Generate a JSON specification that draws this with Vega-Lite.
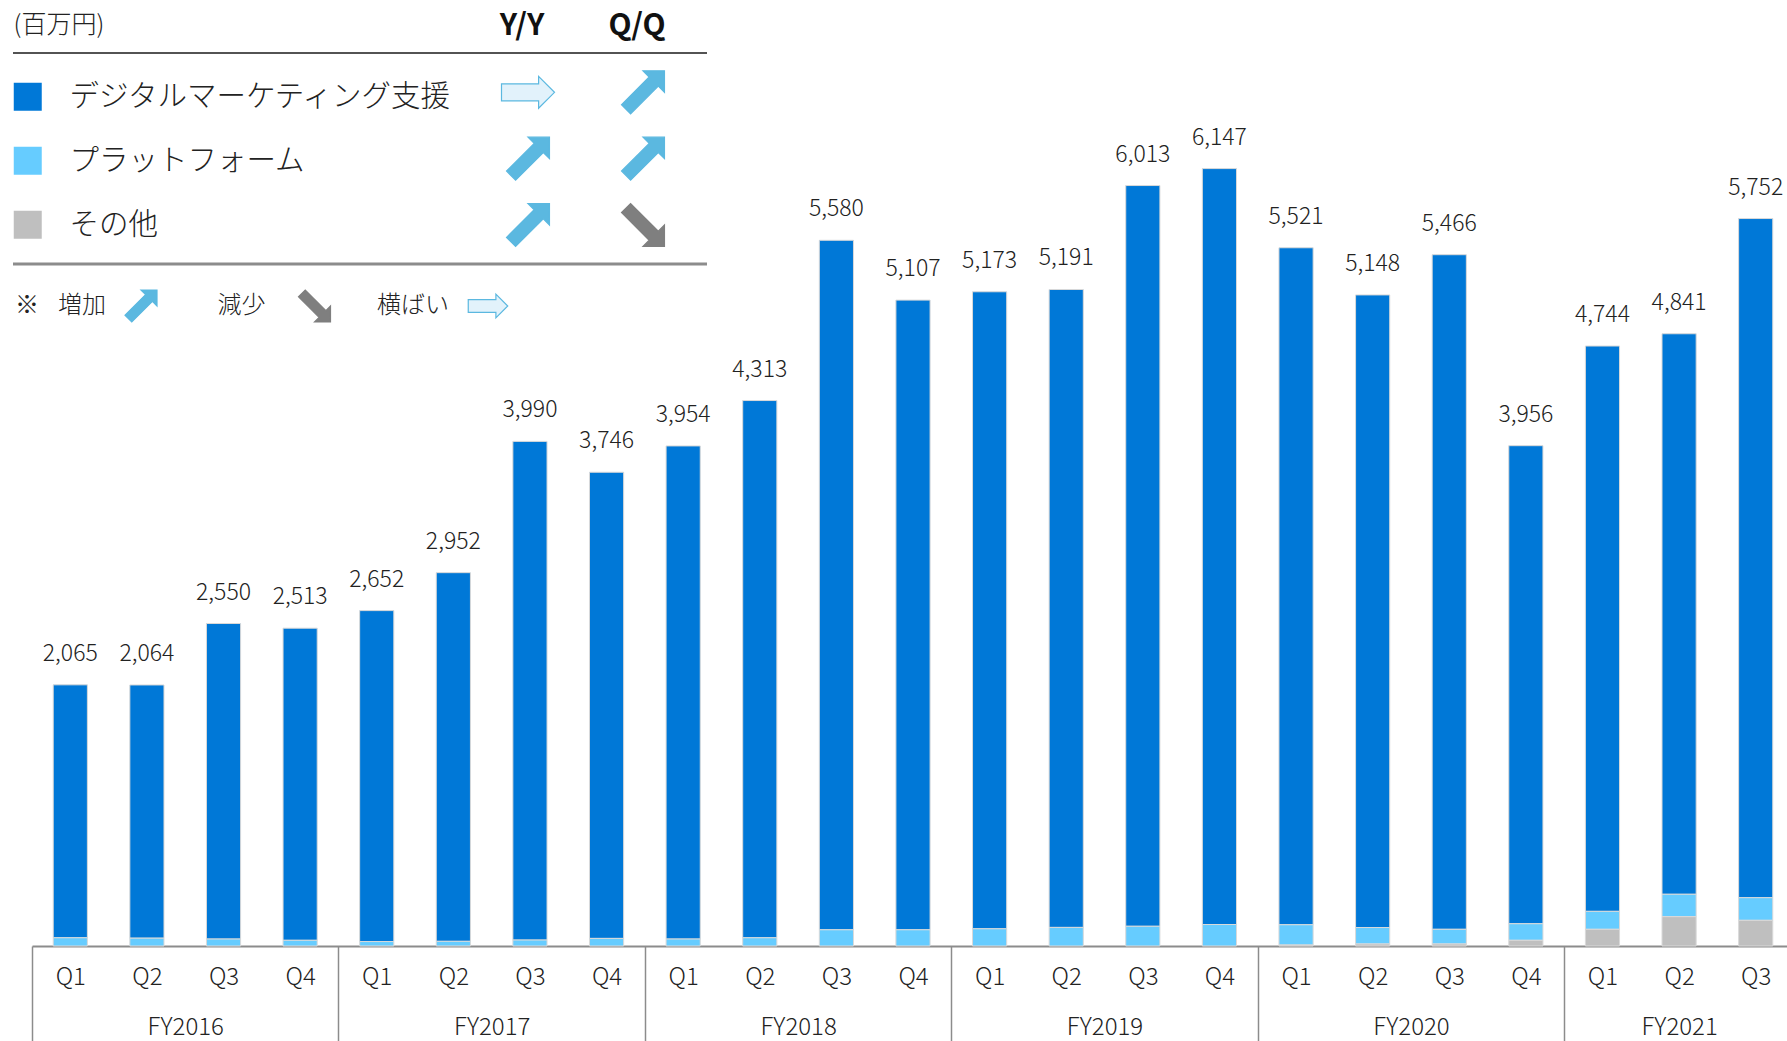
{
  "$schema": "https://vega.github.io/schema/vega-lite/v6.json",
  "width": 1755,
  "height": 946,
  "autosize": {"type": "none"},
  "padding": {"left": 32, "top": 0, "right": 0, "bottom": 95},
  "background": "white",
  "config": {"view": {"stroke": null}, "font": "Noto Sans CJK JP", "axis": {"grid": false}},
  "datasets": {
    "seriesOrder": [
      {"series": "その他", "stackOrder": 1},
      {"series": "プラットフォーム", "stackOrder": 2},
      {"series": "デジタルマーケティング支援", "stackOrder": 3}
    ],
    "segments": [
      {"q": "FY2016 Q1", "series": "デジタルマーケティング支援", "value": 2000}, {"q": "FY2016 Q1", "series": "プラットフォーム", "value": 65},
      {"q": "FY2016 Q2", "series": "デジタルマーケティング支援", "value": 2002}, {"q": "FY2016 Q2", "series": "プラットフォーム", "value": 62},
      {"q": "FY2016 Q3", "series": "デジタルマーケティング支援", "value": 2495}, {"q": "FY2016 Q3", "series": "プラットフォーム", "value": 55},
      {"q": "FY2016 Q4", "series": "デジタルマーケティング支援", "value": 2468}, {"q": "FY2016 Q4", "series": "プラットフォーム", "value": 45},
      {"q": "FY2017 Q1", "series": "デジタルマーケティング支援", "value": 2617}, {"q": "FY2017 Q1", "series": "プラットフォーム", "value": 35},
      {"q": "FY2017 Q2", "series": "デジタルマーケティング支援", "value": 2915}, {"q": "FY2017 Q2", "series": "プラットフォーム", "value": 37},
      {"q": "FY2017 Q3", "series": "デジタルマーケティング支援", "value": 3943}, {"q": "FY2017 Q3", "series": "プラットフォーム", "value": 47},
      {"q": "FY2017 Q4", "series": "デジタルマーケティング支援", "value": 3686}, {"q": "FY2017 Q4", "series": "プラットフォーム", "value": 60},
      {"q": "FY2018 Q1", "series": "デジタルマーケティング支援", "value": 3899}, {"q": "FY2018 Q1", "series": "プラットフォーム", "value": 55},
      {"q": "FY2018 Q2", "series": "デジタルマーケティング支援", "value": 4248}, {"q": "FY2018 Q2", "series": "プラットフォーム", "value": 65},
      {"q": "FY2018 Q3", "series": "デジタルマーケティング支援", "value": 5452}, {"q": "FY2018 Q3", "series": "プラットフォーム", "value": 128},
      {"q": "FY2018 Q4", "series": "デジタルマーケティング支援", "value": 4979}, {"q": "FY2018 Q4", "series": "プラットフォーム", "value": 128},
      {"q": "FY2019 Q1", "series": "デジタルマーケティング支援", "value": 5037}, {"q": "FY2019 Q1", "series": "プラットフォーム", "value": 136},
      {"q": "FY2019 Q2", "series": "デジタルマーケティング支援", "value": 5044}, {"q": "FY2019 Q2", "series": "プラットフォーム", "value": 147},
      {"q": "FY2019 Q3", "series": "デジタルマーケティング支援", "value": 5857}, {"q": "FY2019 Q3", "series": "プラットフォーム", "value": 156},
      {"q": "FY2019 Q4", "series": "デジタルマーケティング支援", "value": 5977}, {"q": "FY2019 Q4", "series": "プラットフォーム", "value": 170},
      {"q": "FY2020 Q1", "series": "デジタルマーケティング支援", "value": 5353}, {"q": "FY2020 Q1", "series": "プラットフォーム", "value": 160}, {"q": "FY2020 Q1", "series": "その他", "value": 8},
      {"q": "FY2020 Q2", "series": "デジタルマーケティング支援", "value": 5002}, {"q": "FY2020 Q2", "series": "プラットフォーム", "value": 130}, {"q": "FY2020 Q2", "series": "その他", "value": 16},
      {"q": "FY2020 Q3", "series": "デジタルマーケティング支援", "value": 5334}, {"q": "FY2020 Q3", "series": "プラットフォーム", "value": 116}, {"q": "FY2020 Q3", "series": "その他", "value": 16},
      {"q": "FY2020 Q4", "series": "デジタルマーケティング支援", "value": 3780}, {"q": "FY2020 Q4", "series": "プラットフォーム", "value": 131}, {"q": "FY2020 Q4", "series": "その他", "value": 45},
      {"q": "FY2021 Q1", "series": "デジタルマーケティング支援", "value": 4470}, {"q": "FY2021 Q1", "series": "プラットフォーム", "value": 142}, {"q": "FY2021 Q1", "series": "その他", "value": 132},
      {"q": "FY2021 Q2", "series": "デジタルマーケティング支援", "value": 4432}, {"q": "FY2021 Q2", "series": "プラットフォーム", "value": 177}, {"q": "FY2021 Q2", "series": "その他", "value": 232},
      {"q": "FY2021 Q3", "series": "デジタルマーケティング支援", "value": 5370}, {"q": "FY2021 Q3", "series": "プラットフォーム", "value": 179}, {"q": "FY2021 Q3", "series": "その他", "value": 203}
    ],
    "totals": [
      {"q": "FY2016 Q1", "total": 2065}, {"q": "FY2016 Q2", "total": 2064}, {"q": "FY2016 Q3", "total": 2550}, {"q": "FY2016 Q4", "total": 2513},
      {"q": "FY2017 Q1", "total": 2652}, {"q": "FY2017 Q2", "total": 2952}, {"q": "FY2017 Q3", "total": 3990}, {"q": "FY2017 Q4", "total": 3746},
      {"q": "FY2018 Q1", "total": 3954}, {"q": "FY2018 Q2", "total": 4313}, {"q": "FY2018 Q3", "total": 5580}, {"q": "FY2018 Q4", "total": 5107},
      {"q": "FY2019 Q1", "total": 5173}, {"q": "FY2019 Q2", "total": 5191}, {"q": "FY2019 Q3", "total": 6013}, {"q": "FY2019 Q4", "total": 6147},
      {"q": "FY2020 Q1", "total": 5521}, {"q": "FY2020 Q2", "total": 5148}, {"q": "FY2020 Q3", "total": 5466}, {"q": "FY2020 Q4", "total": 3956},
      {"q": "FY2021 Q1", "total": 4744}, {"q": "FY2021 Q2", "total": 4841}, {"q": "FY2021 Q3", "total": 5752}
    ]
  },
  "layer": [
    {
      "data": {"name": "segments"},
      "transform": [
        {"lookup": "series", "from": {"data": {"name": "seriesOrder"}, "key": "series", "fields": ["stackOrder"]}}
      ],
      "mark": {"type": "bar", "stroke": "#D9D9D9", "strokeWidth": 1},
      "encoding": {
        "x": {
          "field": "q", "type": "nominal", "sort": null,
          "scale": {"domain": ["FY2016 Q1","FY2016 Q2","FY2016 Q3","FY2016 Q4","FY2017 Q1","FY2017 Q2","FY2017 Q3","FY2017 Q4","FY2018 Q1","FY2018 Q2","FY2018 Q3","FY2018 Q4","FY2019 Q1","FY2019 Q2","FY2019 Q3","FY2019 Q4","FY2020 Q1","FY2020 Q2","FY2020 Q3","FY2020 Q4","FY2021 Q1","FY2021 Q2","FY2021 Q3"], "range": [0, 1762], "paddingInner": 0.554, "paddingOuter": 0.277},
          "axis": {
            "orient": "bottom", "title": null, "grid": false,
            "domain": true, "domainColor": "#8c8c8c", "domainWidth": 2,
            "ticks": true, "tickSize": 95, "tickWidth": 1.5, "tickOffset": -38.3,
            "tickColor": {"condition": {"test": "indexof(datum.value,'Q1')>=0", "value": "#8c8c8c"}, "value": "rgba(0,0,0,0)"},
            "labelExpr": "split(datum.value,' ')[1]", "labelOffset": 38.3, "labelPadding": -64,
            "labelBaseline": "middle", "labelAngle": 0, "labelFontSize": 24, "labelColor": "#222",
            "labelFont": "Noto Sans CJK JP", "labelFontWeight": 300, "labelOverlap": false, "labelBound": false
          }
        },
        "y": {
          "field": "value", "type": "quantitative", "stack": "zero",
          "scale": {"domain": [0, 7480], "nice": false},
          "axis": {"title": "(百万円)", "domain": false, "ticks": false, "labels": false, "grid": false,
                   "titleAngle": 0, "titleAlign": "left", "titleBaseline": "middle", "titleX": -19, "titleY": 24,
                   "titleFontSize": 25, "titleFontWeight": 300, "titleColor": "#222", "titleFont": "Noto Sans CJK JP"}
        },
        "order": {"field": "stackOrder", "type": "quantitative", "sort": "ascending"},
        "color": {
          "field": "series", "type": "nominal",
          "scale": {"domain": ["デジタルマーケティング支援", "プラットフォーム", "その他"], "range": ["#0078D7", "#66CCFF", "#BFBFBF"]},
          "legend": {"orient": "none", "legendX": -19, "legendY": 82, "title": null, "direction": "vertical",
                     "symbolType": "square", "symbolSize": 784, "symbolStrokeWidth": 0, "symbolOpacity": 1,
                     "labelFontSize": 29.5, "labelOffset": 27, "rowPadding": 33, "labelLimit": 700,
                     "labelColor": "#222", "labelFont": "Noto Sans CJK JP", "labelFontWeight": 300}
        }
      }
    },
    {
      "data": {"name": "totals"},
      "mark": {"type": "text", "baseline": "alphabetic", "dy": -24, "fontSize": 23, "fontWeight": 300, "color": "#222"},
      "encoding": {
        "x": {
          "field": "q", "type": "nominal", "sort": null,
          "scale": {"domain": ["FY2016 Q1","FY2016 Q2","FY2016 Q3","FY2016 Q4","FY2017 Q1","FY2017 Q2","FY2017 Q3","FY2017 Q4","FY2018 Q1","FY2018 Q2","FY2018 Q3","FY2018 Q4","FY2019 Q1","FY2019 Q2","FY2019 Q3","FY2019 Q4","FY2020 Q1","FY2020 Q2","FY2020 Q3","FY2020 Q4","FY2021 Q1","FY2021 Q2","FY2021 Q3"], "range": [0, 1762], "paddingInner": 0.554, "paddingOuter": 0.277},
          "axis": {
            "orient": "bottom", "title": null, "grid": false, "domain": false, "ticks": false,
            "labelExpr": "(indexof(datum.value,'Q3')>=0 && indexof(datum.value,'2021')<0) || datum.value=='FY2021 Q2' ? split(datum.value,' ')[0] : ''",
            "labelOffset": {"condition": {"test": "datum.value=='FY2021 Q2'", "value": 0}, "value": -38.3},
            "labelPadding": 81, "labelBaseline": "middle", "labelAngle": 0, "labelFontSize": 24, "labelColor": "#222",
            "labelFont": "Noto Sans CJK JP", "labelFontWeight": 300, "labelOverlap": false, "labelBound": false
          }
        },
        "y": {"field": "total", "type": "quantitative", "scale": {"domain": [0, 7480], "nice": false}, "axis": null},
        "text": {"field": "total", "type": "quantitative", "format": ","}
      }
    },
    {
      "layer": [
        {
          "data": {"values": [{"col": "Y/Y"}, {"col": "Q/Q"}]},
          "mark": {"type": "text", "fontSize": 30, "fontWeight": "bold", "color": "#111", "dx": -6},
          "encoding": {
            "x": {"field": "col", "type": "nominal", "scale": {"type": "point", "domain": ["Y/Y", "Q/Q"], "range": [496, 611], "padding": 0}, "axis": null},
            "y": {"datum": "header", "type": "nominal", "scale": {"type": "point", "domain": ["header", "デジタルマーケティング支援", "プラットフォーム", "その他"], "range": [26, 225], "padding": 0}, "axis": null},
            "text": {"field": "col"}
          }
        },
        {
          "data": {"values": [
            {"series": "デジタルマーケティング支援", "col": "Y/Y", "dir": "flat"},
            {"series": "デジタルマーケティング支援", "col": "Q/Q", "dir": "up"},
            {"series": "プラットフォーム", "col": "Y/Y", "dir": "up"},
            {"series": "プラットフォーム", "col": "Q/Q", "dir": "up"},
            {"series": "その他", "col": "Y/Y", "dir": "up"},
            {"series": "その他", "col": "Q/Q", "dir": "down"}
          ]},
          "mark": {"type": "point", "filled": true, "opacity": 1, "size": 2809, "strokeWidth": 1.2},
          "encoding": {
            "x": {"field": "col", "type": "nominal", "scale": {"type": "point", "domain": ["Y/Y", "Q/Q"], "range": [496, 611], "padding": 0}, "axis": null},
            "y": {"field": "series", "type": "nominal", "scale": {"type": "point", "domain": ["header", "デジタルマーケティング支援", "プラットフォーム", "その他"], "range": [26, 225], "padding": 0}, "axis": null},
            "shape": {"field": "dir", "type": "nominal", "scale": {"domain": ["up", "down", "flat"], "range": [
              "M0.81,-0.81L0,-0.81L0.233,-0.577L-0.81,0.468L-0.468,0.81L0.577,-0.233L0.81,0Z",
              "M0.81,0.81L0,0.81L0.233,0.577L-0.81,-0.468L-0.468,-0.81L0.577,0.233L0.81,0Z",
              "M-1,-0.32L0.4,-0.32L0.4,-0.6L1,0L0.4,0.6L0.4,0.32L-1,0.32Z"]}, "legend": null},
            "fill": {"field": "dir", "type": "nominal", "scale": {"domain": ["up", "down", "flat"], "range": ["#5BB8E0", "#7F7F7F", "#E2F2FB"]}, "legend": null},
            "stroke": {"field": "dir", "type": "nominal", "scale": {"domain": ["up", "down", "flat"], "range": ["#5BB8E0", "#7F7F7F", "#5BB8E0"]}, "legend": null}
          }
        }
      ]
    },
    {
      "data": {"values": [{"line": "top"}, {"line": "bottom"}]},
      "mark": {"type": "rule"},
      "encoding": {
        "y": {"field": "line", "type": "nominal", "scale": {"type": "point", "domain": ["top", "bottom"], "range": [53, 264], "padding": 0}, "axis": null},
        "x": {"datum": "start", "type": "nominal", "scale": {"type": "point", "domain": ["start", "end"], "range": [-19, 675], "padding": 0}, "axis": null},
        "x2": {"datum": "end"},
        "color": {"field": "line", "type": "nominal", "scale": {"domain": ["top", "bottom"], "range": ["#1a1a1a", "#8c8c8c"]}, "legend": null},
        "strokeWidth": {"field": "line", "type": "ordinal", "scale": {"domain": ["top", "bottom"], "range": [1.5, 3]}, "legend": null}
      }
    },
    {
      "layer": [
        {
          "data": {"values": [{"label": "増加"}, {"label": "減少"}, {"label": "横ばい"}]},
          "mark": {"type": "text", "align": "left", "fontSize": 24, "fontWeight": 300, "color": "#222"},
          "encoding": {
            "x": {"field": "label", "type": "nominal", "scale": {"type": "point", "domain": ["増加", "減少", "横ばい"], "range": [26, 345], "padding": 0}, "axis": null},
            "y": {"datum": "note", "type": "nominal", "scale": {"type": "point", "domain": ["note"], "range": [306, 306], "padding": 0}, "axis": null},
            "text": {"field": "label"}
          }
        },
        {
          "data": {"values": [{"dir": "up"}, {"dir": "down"}, {"dir": "flat"}]},
          "mark": {"type": "point", "filled": true, "opacity": 1, "size": 1560, "strokeWidth": 1.2},
          "encoding": {
            "x": {"field": "dir", "type": "nominal", "scale": {"type": "point", "domain": ["up", "down", "flat"], "range": [109, 456], "padding": 0}, "axis": null},
            "y": {"datum": "note", "type": "nominal", "scale": {"type": "point", "domain": ["note"], "range": [306, 306], "padding": 0}, "axis": null},
            "shape": {"field": "dir", "type": "nominal", "scale": {"domain": ["up", "down", "flat"], "range": [
              "M0.81,-0.81L0,-0.81L0.233,-0.577L-0.81,0.468L-0.468,0.81L0.577,-0.233L0.81,0Z",
              "M0.81,0.81L0,0.81L0.233,0.577L-0.81,-0.468L-0.468,-0.81L0.577,0.233L0.81,0Z",
              "M-1,-0.32L0.4,-0.32L0.4,-0.6L1,0L0.4,0.6L0.4,0.32L-1,0.32Z"]}, "legend": null},
            "fill": {"field": "dir", "type": "nominal", "scale": {"domain": ["up", "down", "flat"], "range": ["#5BB8E0", "#7F7F7F", "#E2F2FB"]}, "legend": null},
            "stroke": {"field": "dir", "type": "nominal", "scale": {"domain": ["up", "down", "flat"], "range": ["#5BB8E0", "#7F7F7F", "#5BB8E0"]}, "legend": null}
          }
        },
        {
          "data": {"values": [{"sym": "※"}]},
          "mark": {"type": "text", "fontSize": 24, "color": "#222"},
          "encoding": {
            "x": {"field": "sym", "type": "nominal", "scale": {"type": "point", "domain": ["※"], "range": [-5, -5], "padding": 0}, "axis": null},
            "y": {"datum": "note", "type": "nominal", "scale": {"type": "point", "domain": ["note"], "range": [306, 306], "padding": 0}, "axis": null},
            "text": {"field": "sym"}
          }
        }
      ],
      "resolve": {"scale": {"x": "independent"}}
    }
  ],
  "resolve": {
    "scale": {"x": "independent", "y": "independent", "color": "independent", "shape": "independent", "fill": "independent", "stroke": "independent", "strokeWidth": "independent"},
    "axis": {"x": "independent", "y": "independent"},
    "legend": {"color": "independent", "shape": "independent", "fill": "independent", "stroke": "independent", "strokeWidth": "independent"}
  }
}
